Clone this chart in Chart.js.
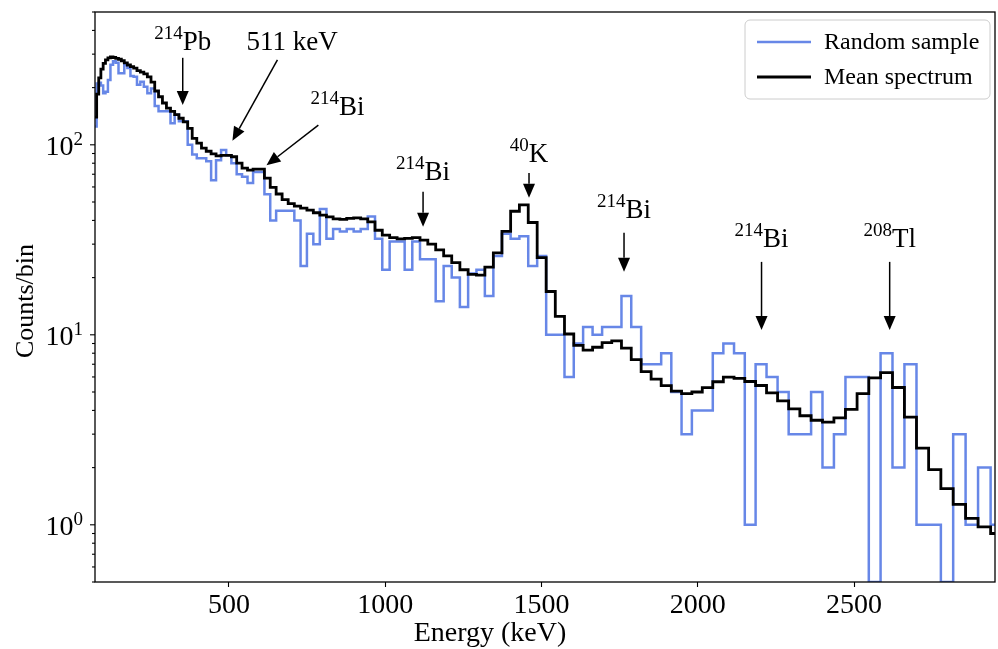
<!DOCTYPE html>
<html>
<head>
<meta charset="utf-8">
<script src="https://cdn.jsdelivr.net/npm/chart.js@4.4.1/dist/chart.umd.min.js"></script>
<style>
  html, body { margin: 0; padding: 0; background: #fff; }
  #wrap { width: 998px; height: 649px; }
</style>
</head>
<body>
<div id="wrap"><canvas id="spectrum" width="998" height="649"></canvas></div>
<script>
// Bin edges in keV (bins get wider with energy)
const binEdges = [
    70.2, 76.6, 83.2, 90.1, 97.4, 104.8, 112.6, 120.7, 129.0, 137.6,
    146.5, 155.6, 165.0, 174.8, 184.7, 195.0, 205.6, 216.4, 227.5, 238.8,
    250.5, 262.4, 274.6, 287.1, 299.9, 312.9, 326.2, 339.8, 353.7, 367.9,
    382.3, 397.0, 412.0, 427.2, 442.8, 458.6, 474.7, 491.0, 507.7, 524.6,
    541.8, 559.3, 577.1, 595.1, 613.4, 632.0, 650.9, 670.0, 689.4, 709.1,
    729.1, 749.4, 769.9, 790.7, 811.8, 833.2, 854.8, 876.7, 898.9, 921.4,
    944.1, 967.2, 990.5, 1014.1, 1037.9, 1062.1, 1086.5, 1111.2, 1136.2, 1161.4,
    1186.9, 1212.7, 1238.8, 1265.2, 1291.8, 1318.7, 1345.9, 1373.4, 1401.2, 1429.2,
    1457.5, 1486.1, 1514.9, 1544.1, 1573.5, 1603.2, 1633.1, 1663.4, 1693.9, 1724.7,
    1755.8, 1787.1, 1818.8, 1850.7, 1882.9, 1915.3, 1948.1, 1981.1, 2014.4, 2048.0,
    2081.8, 2116.0, 2150.4, 2185.0, 2220.0, 2255.3, 2290.8, 2326.6, 2362.6, 2399.0,
    2435.6, 2472.5, 2509.7, 2547.2, 2584.9, 2623.0, 2661.2, 2699.8, 2738.6, 2777.8,
    2817.2, 2856.9, 2896.8, 2937.0, 2977.6
];

// Counts per bin, one random sample
const sampleCounts = [
    125, 210, 212, 205, 187, 190, 219, 264, 275, 270,
    238, 238, 262, 254, 230, 228, 207, 215, 202, 187,
    198, 160, 150, 150, 150, 130, 144, 133, 133, 100,
    89, 85, 85, 82, 65, 83, 94, 88, 80, 70,
    68, 63, 72, 72, 55, 40, 45, 45, 45, 40,
    23, 34, 30, 46, 32, 36, 35, 36, 35, 36,
    42, 32, 22, 31, 31, 22, 31, 25, 25, 15,
    23, 20, 14, 21, 22, 16, 26, 34, 32, 33,
    23, 26, 10, 10, 6, 9, 11, 10, 11, 11,
    16, 11, 7, 7, 8, 5, 3, 4, 4, 8,
    9, 8, 1, 7, 6, 5, 3, 3, 5, 2,
    3, 6, 6, 0, 8, 2, 7, 1, 1, 0,
    3, 1, 2, 1
];

// Mean counts per bin
const meanCounts = [
    140, 185, 225, 250, 268, 280, 287, 290, 288, 285,
    282, 277, 270, 263, 258, 253, 246, 241, 236, 228,
    214, 192, 179, 166, 156, 150, 144, 138, 132, 122,
    108, 102, 96, 92.5, 89.6, 87.5, 88, 88, 86.5, 80,
    75.4, 73.6, 74.5, 74.5, 66.7, 59.7, 55.1, 51.4, 49, 47.6,
    46.4, 45.3, 43.9, 42.6, 41.8, 40.8, 40.5, 41, 41.2, 40.8,
    39.3, 35.5, 33.5, 32.5, 32, 32.2, 32.5, 31.5, 30, 28,
    26, 24, 22, 20.8, 20.6, 22.7, 27, 35, 44.7, 48.3,
    39, 25.5, 16.9, 12.5, 10.1, 8.8, 8.3, 8.6, 9.1, 9.3,
    8.5, 7.4, 6.4, 5.85, 5.4, 5.05, 4.9, 5.0, 5.27, 5.66,
    5.99, 5.9, 5.68, 5.41, 4.95, 4.49, 4.08, 3.75, 3.55, 3.47,
    3.65, 4.05, 4.9, 5.94, 6.33, 5.28, 3.69, 2.53, 1.95, 1.55,
    1.28, 1.08, 0.975, 0.9
];

const xTicks = [500, 1000, 1500, 2000, 2500];
const yDecadeExps = [0, 1, 2];

// Peak annotations: label text, arrow tail/head and text anchor in (keV, counts)
const peakNotes = [
    { sup: '214', main: 'Pb', textE: 352, textC: 316, tailE: 352, tailC: 287, headE: 352, headC: 162 },
    { sup: '', main: '511 keV', textE: 702, textC: 316, tailE: 655, tailC: 280, headE: 511, headC: 105 },
    { sup: '214', main: 'Bi', textE: 847, textC: 144, tailE: 786, tailC: 127, headE: 620, headC: 78 },
    { sup: '214', main: 'Bi', textE: 1121, textC: 65, tailE: 1121, tailC: 56.6, headE: 1121, headC: 37 },
    { sup: '40', main: 'K', textE: 1460, textC: 81, tailE: 1460, tailC: 71, headE: 1460, headC: 52.6 },
    { sup: '214', main: 'Bi', textE: 1764, textC: 41.3, tailE: 1764, tailC: 34.4, headE: 1764, headC: 21.5 },
    { sup: '214', main: 'Bi', textE: 2204, textC: 29.1, tailE: 2204, tailC: 24.2, headE: 2204, headC: 10.6 },
    { sup: '208', main: 'Tl', textE: 2614, textC: 29.1, tailE: 2614, tailC: 24.2, headE: 2614, headC: 10.6 }
];

const serif = "'Liberation Serif', 'DejaVu Serif', serif";
const sampleColor = 'rgba(65, 105, 225, 0.8)';
const meanColor = '#000000';

// turn bin edges + counts into points for a stepped line
function toSteps(edges, counts) {
    const pts = counts.map((c, i) => ({ x: edges[i], y: c }));
    pts.push({ x: edges[edges.length - 1], y: counts[counts.length - 1] });
    return pts;
}

function drawArrow(ctx, x1, y1, x2, y2) {
    const ang = Math.atan2(y2 - y1, x2 - x1);
    const headLen = 14, headHalf = 6;
    const bx = x2 - headLen * Math.cos(ang), by = y2 - headLen * Math.sin(ang);
    ctx.beginPath();
    ctx.moveTo(x1, y1);
    ctx.lineTo(bx, by);
    ctx.stroke();
    ctx.beginPath();
    ctx.moveTo(x2, y2);
    ctx.lineTo(bx + headHalf * Math.sin(ang), by - headHalf * Math.cos(ang));
    ctx.lineTo(bx - headHalf * Math.sin(ang), by + headHalf * Math.cos(ang));
    ctx.closePath();
    ctx.fill();
}

// text with a superscript prefix, centred on cx
function drawSupText(ctx, sup, main, cx, cy, bigSize, smallSize, raise) {
    ctx.font = smallSize + 'px ' + serif;
    const wSup = sup ? ctx.measureText(sup).width : 0;
    ctx.font = bigSize + 'px ' + serif;
    const wMain = ctx.measureText(main).width;
    let x = cx - (wSup + wMain) / 2;
    ctx.textAlign = 'left';
    ctx.textBaseline = 'alphabetic';
    if (sup) {
        ctx.font = smallSize + 'px ' + serif;
        ctx.fillText(sup, x, cy - raise);
        x += wSup;
    }
    ctx.font = bigSize + 'px ' + serif;
    ctx.fillText(main, x, cy);
}

const decorPlugin = {
    id: 'decor',
    afterDatasetsDraw(chart) {
        const ctx = chart.ctx;
        const area = chart.chartArea;
        const xs = chart.scales.x, ys = chart.scales.y;
        ctx.save();

        // axes frame
        ctx.strokeStyle = '#000';
        ctx.lineWidth = 1.3;
        ctx.strokeRect(area.left, area.top, area.right - area.left, area.bottom - area.top);

        // y ticks (major + minor) on log scale
        ctx.lineWidth = 1.1;
        for (let e = -1; e <= 3; e++) {
            for (let m = 1; m <= 9; m++) {
                const v = m * Math.pow(10, e);
                if (v < ys.min - 1e-9 || v > ys.max + 1e-9) continue;
                const py = ys.getPixelForValue(v);
                const len = m === 1 ? 5 : 3;
                ctx.beginPath();
                ctx.moveTo(area.left - len, py);
                ctx.lineTo(area.left, py);
                ctx.stroke();
            }
        }

        // y tick labels 10^n
        ctx.fillStyle = '#000';
        yDecadeExps.forEach(n => {
            const py = ys.getPixelForValue(Math.pow(10, n));
            ctx.font = '19px ' + serif;
            const wSup = ctx.measureText(String(n)).width;
            ctx.font = '28px ' + serif;
            const wBase = ctx.measureText('10').width;
            const right = area.left - 12;
            ctx.textAlign = 'left';
            ctx.textBaseline = 'alphabetic';
            ctx.fillText('10', right - wSup - wBase, py + 10);
            ctx.font = '19px ' + serif;
            ctx.fillText(String(n), right - wSup, py);
        });

        // axis titles (x title sits left of centre in the original)
        ctx.font = '28px ' + serif;
        ctx.textAlign = 'center';
        ctx.textBaseline = 'middle';
        ctx.fillText('Energy (keV)', 490, 634);
        ctx.save();
        ctx.translate(26, 301);
        ctx.rotate(-Math.PI / 2);
        ctx.font = '26px ' + serif;
        ctx.fillText('Counts/bin', 0, 0);
        ctx.restore();

        // peak annotations
        ctx.strokeStyle = '#000';
        ctx.fillStyle = '#000';
        ctx.lineWidth = 1.5;
        peakNotes.forEach(p => {
            drawArrow(ctx,
                xs.getPixelForValue(p.tailE), ys.getPixelForValue(p.tailC),
                xs.getPixelForValue(p.headE), ys.getPixelForValue(p.headC));
            drawSupText(ctx, p.sup, p.main,
                xs.getPixelForValue(p.textE), ys.getPixelForValue(p.textC), 27, 19, 11);
        });

        // legend, top right inside the axes
        const lx = area.right - 250, ly = area.top + 8, lw = 245, lh = 79;
        ctx.beginPath();
        ctx.roundRect(lx, ly, lw, lh, 5);
        ctx.fillStyle = 'rgba(255,255,255,0.8)';
        ctx.fill();
        ctx.strokeStyle = '#cccccc';
        ctx.lineWidth = 1;
        ctx.stroke();
        const entries = [chart.data.datasets[1], chart.data.datasets[0]];
        entries.forEach((ds, i) => {
            const y = ly + 22 + i * 35;
            ctx.strokeStyle = ds.borderColor;
            ctx.lineWidth = ds.borderWidth;
            ctx.beginPath();
            ctx.moveTo(lx + 12, y);
            ctx.lineTo(lx + 66, y);
            ctx.stroke();
            ctx.fillStyle = '#000';
            ctx.font = '24px ' + serif;
            ctx.textAlign = 'left';
            ctx.textBaseline = 'middle';
            ctx.fillText(ds.label, lx + 79, y + 1);
        });
        ctx.restore();
    }
};

const ctx = document.getElementById('spectrum').getContext('2d');
new Chart(ctx, {
    type: 'line',
    data: {
        datasets: [
            {
                label: 'Mean spectrum',
                data: toSteps(binEdges, meanCounts),
                borderColor: meanColor,
                borderWidth: 2.8,
                stepped: 'before',
                pointRadius: 0,
                fill: false,
                clip: 0,
                order: 0
            },
            {
                label: 'Random sample',
                data: toSteps(binEdges, sampleCounts),
                borderColor: sampleColor,
                borderWidth: 2.5,
                stepped: 'before',
                pointRadius: 0,
                fill: false,
                clip: 0,
                order: 1
            }
        ]
    },
    options: {
        responsive: false,
        animation: false,
        devicePixelRatio: 1,
        parsing: false,
        layout: { padding: { top: 12, right: 3, left: 0, bottom: 0 } },
        plugins: {
            legend: { display: false },
            tooltip: { enabled: false }
        },
        scales: {
            x: {
                type: 'linear',
                min: 71.3,
                max: 2951,
                afterFit: s => { s.height = 67; },
                afterBuildTicks: s => { s.ticks = xTicks.map(v => ({ value: v })); },
                grid: {
                    display: true,
                    drawOnChartArea: false,
                    drawTicks: true,
                    tickLength: 5,
                    tickColor: '#000',
                    tickWidth: 1.1
                },
                border: { display: false },
                ticks: {
                    color: '#000',
                    font: { family: serif, size: 28 },
                    padding: 2,
                    maxRotation: 0,
                    autoSkip: false,
                    callback: v => String(v)
                },
                title: { display: false }
            },
            y: {
                type: 'logarithmic',
                min: 0.5,
                max: 500,
                afterFit: s => { s.width = 95; },
                grid: { display: false },
                border: { display: false },
                ticks: { display: false },
                title: { display: false }
            }
        }
    },
    plugins: [decorPlugin]
});
</script>
</body>
</html>
